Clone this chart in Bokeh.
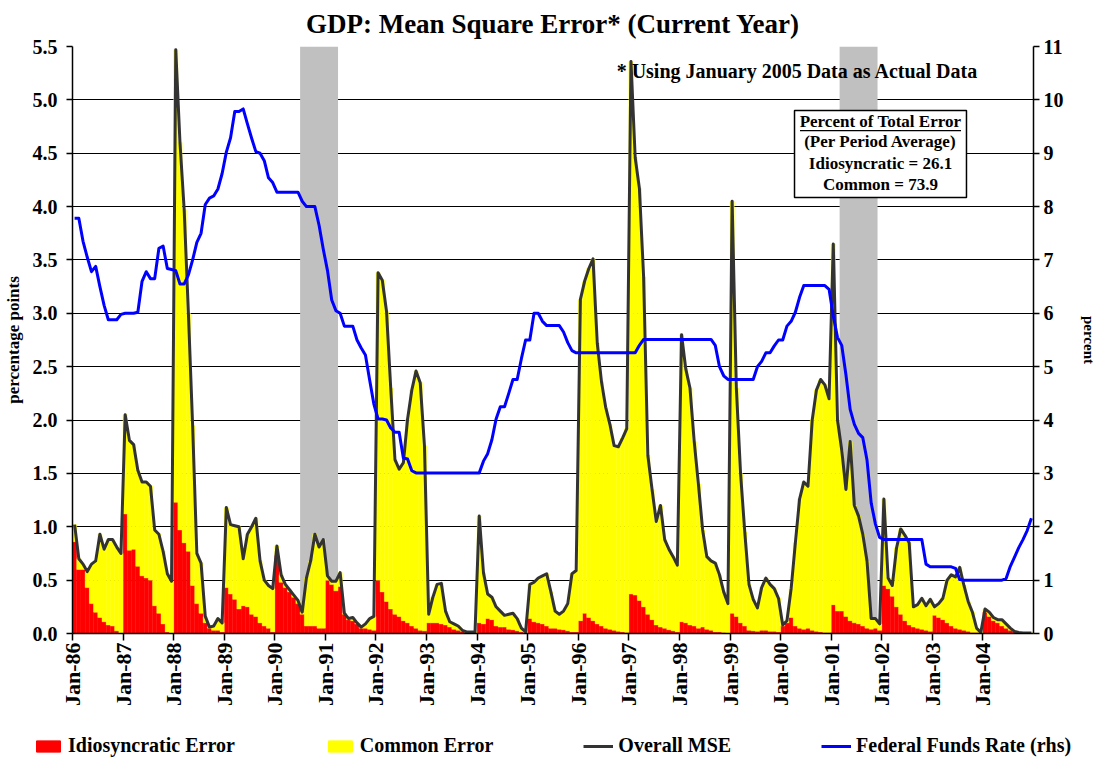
import math
from bokeh.plotting import figure
from bokeh.models import (Range1d, LinearAxis, FixedTicker, PrintfTickFormatter,
                          Legend, LegendItem, Label, BoxAnnotation, ColumnDataSource)
from bokeh.embed import file_html
from bokeh.resources import INLINE

# ---------------- data (monthly, Jan-1986 .. Dec-2004) ----------------
start_year = 1986
tick_labels = ["Jan-86", "Jan-87", "Jan-88", "Jan-89", "Jan-90", "Jan-91", "Jan-92",
               "Jan-93", "Jan-94", "Jan-95", "Jan-96", "Jan-97", "Jan-98", "Jan-99",
               "Jan-00", "Jan-01", "Jan-02", "Jan-03", "Jan-04"]

# Overall MSE (percentage points)
mse = [
    1.02, 0.70, 0.65, 0.58, 0.65, 0.68, 0.93, 0.79, 0.88, 0.88, 0.81, 0.75,   # 1986
    2.05, 1.81, 1.77, 1.53, 1.42, 1.42, 1.38, 0.97, 0.93, 0.77, 0.56, 0.49,   # 1987
    5.47, 4.60, 3.97, 3.00, 1.95, 0.75, 0.66, 0.16, 0.06, 0.07, 0.14, 0.10,   # 1988
    1.18, 1.02, 1.01, 1.00, 0.70, 0.93, 1.00, 1.08, 0.68, 0.50, 0.45, 0.42,   # 1989
    0.82, 0.55, 0.46, 0.41, 0.36, 0.31, 0.20, 0.52, 0.68, 0.93, 0.81, 0.88,   # 1990
    0.54, 0.49, 0.49, 0.57, 0.19, 0.14, 0.15, 0.10, 0.06, 0.09, 0.14, 0.16,   # 1991
    3.38, 3.31, 3.02, 2.30, 1.63, 1.54, 1.60, 2.01, 2.28, 2.46, 2.35, 1.76,   # 1992
    0.18, 0.34, 0.46, 0.47, 0.21, 0.11, 0.09, 0.07, 0.03, 0.015, 0.015, 0.015,  # 1993
    1.10, 0.57, 0.37, 0.34, 0.25, 0.21, 0.17, 0.18, 0.19, 0.14, 0.05, 0.015,  # 1994
    0.46, 0.48, 0.52, 0.54, 0.56, 0.39, 0.21, 0.18, 0.21, 0.28, 0.56, 0.59,   # 1995
    3.13, 3.30, 3.42, 3.51, 2.72, 2.36, 2.12, 1.96, 1.76, 1.75, 1.83, 1.92,   # 1996
    5.36, 4.46, 4.17, 3.34, 1.67, 1.35, 1.05, 1.20, 0.88, 0.79, 0.72, 0.64,   # 1997
    2.80, 2.48, 2.30, 1.80, 1.40, 0.97, 0.72, 0.68, 0.66, 0.55, 0.39, 0.28,   # 1998
    4.05, 2.30, 1.50, 0.95, 0.46, 0.32, 0.24, 0.43, 0.52, 0.46, 0.42, 0.33,   # 1999
    0.08, 0.12, 0.42, 0.85, 1.26, 1.42, 1.38, 2.00, 2.28, 2.38, 2.33, 2.20,   # 2000
    3.65, 2.00, 1.72, 1.35, 1.80, 1.20, 1.10, 0.93, 0.68, 0.14, 0.14, 0.09,   # 2001
    1.26, 0.52, 0.45, 0.80, 0.98, 0.92, 0.85, 0.25, 0.27, 0.33, 0.26, 0.32,   # 2002
    0.25, 0.28, 0.33, 0.50, 0.55, 0.53, 0.62, 0.45, 0.30, 0.20, 0.05, 0.01,   # 2003
    0.23, 0.20, 0.15, 0.13, 0.13, 0.09, 0.05, 0.02, 0.01, 0.005, 0.005, 0.005,  # 2004
]

# Idiosyncratic error (percentage points)
idio = [
    0.86, 0.60, 0.60, 0.43, 0.28, 0.20, 0.15, 0.11, 0.08, 0.07, 0.025, 0.005,
    1.12, 0.78, 0.79, 0.63, 0.54, 0.52, 0.50, 0.26, 0.19, 0.09, 0.015, 0.005,
    1.23, 0.97, 0.85, 0.77, 0.45, 0.28, 0.19, 0.10, 0.05, 0.03, 0.03, 0.015,
    0.43, 0.37, 0.32, 0.23, 0.26, 0.25, 0.18, 0.16, 0.10, 0.07, 0.05, 0.015,
    0.73, 0.48, 0.43, 0.39, 0.34, 0.28, 0.18, 0.07, 0.07, 0.07, 0.05, 0.05,
    0.50, 0.46, 0.40, 0.44, 0.18, 0.13, 0.12, 0.09, 0.05, 0.05, 0.04, 0.03,
    0.50, 0.39, 0.30, 0.23, 0.18, 0.16, 0.12, 0.10, 0.07, 0.05, 0.03, 0.025,
    0.10, 0.10, 0.10, 0.09, 0.08, 0.06, 0.04, 0.03, 0.02, 0.01, 0.01, 0.01,
    0.10, 0.09, 0.14, 0.13, 0.07, 0.06, 0.06, 0.04, 0.035, 0.025, 0.015, 0.01,
    0.14, 0.11, 0.10, 0.09, 0.07, 0.05, 0.05, 0.04, 0.035, 0.025, 0.015, 0.015,
    0.12, 0.19, 0.15, 0.12, 0.09, 0.07, 0.05, 0.04, 0.03, 0.02, 0.015, 0.01,
    0.37, 0.36, 0.31, 0.25, 0.18, 0.13, 0.08, 0.06, 0.05, 0.035, 0.025, 0.015,
    0.11, 0.10, 0.08, 0.07, 0.05, 0.06, 0.04, 0.03, 0.015, 0.015, 0.01, 0.005,
    0.19, 0.16, 0.10, 0.07, 0.03, 0.025, 0.02, 0.03, 0.03, 0.02, 0.02, 0.015,
    0.07, 0.10, 0.15, 0.07, 0.05, 0.04, 0.05, 0.03, 0.02, 0.015, 0.01, 0.01,
    0.27, 0.21, 0.21, 0.16, 0.12, 0.10, 0.09, 0.07, 0.05, 0.04, 0.05, 0.03,
    0.45, 0.42, 0.35, 0.25, 0.18, 0.12, 0.08, 0.06, 0.05, 0.04, 0.03, 0.02,
    0.17, 0.15, 0.13, 0.10, 0.07, 0.05, 0.04, 0.03, 0.02, 0.01, 0.01, 0.005,
    0.20, 0.16, 0.12, 0.10, 0.07, 0.05, 0.03, 0.02, 0.01, 0.005, 0.003, 0.002,
]

# Federal funds rate (percent, right axis)
fed_funds = [
    7.78, 7.78, 7.35, 7.05, 6.78, 6.88, 6.50, 6.15, 5.88, 5.88, 5.88, 5.98,
    6.00, 6.00, 6.00, 6.02, 6.60, 6.78, 6.65, 6.65, 7.22, 7.26, 6.84, 6.82,
    6.80, 6.55, 6.55, 6.72, 7.00, 7.33, 7.50, 8.04, 8.16, 8.20, 8.33, 8.62,
    9.02, 9.29, 9.78, 9.78, 9.83, 9.55, 9.28, 9.03, 9.00, 8.86, 8.54, 8.45,
    8.27, 8.27, 8.27, 8.27, 8.27, 8.27, 8.10, 8.00, 8.00, 8.00, 7.65, 7.20,
    6.80, 6.25, 6.05, 6.00, 5.76, 5.76, 5.76, 5.50, 5.35, 5.22, 4.75, 4.30,
    4.02, 4.02, 4.00, 3.85, 3.77, 3.77, 3.29, 3.27, 3.05, 3.01, 3.01, 3.01,
    3.01, 3.01, 3.01, 3.01, 3.01, 3.01, 3.01, 3.01, 3.01, 3.01, 3.01, 3.01,
    3.01, 3.23, 3.37, 3.63, 4.02, 4.25, 4.25, 4.50, 4.76, 4.76, 5.15, 5.50,
    5.50, 6.00, 6.00, 5.85, 5.77, 5.77, 5.77, 5.77, 5.65, 5.45, 5.30, 5.26,
    5.26, 5.26, 5.26, 5.26, 5.26, 5.26, 5.26, 5.26, 5.26, 5.26, 5.26, 5.26,
    5.26, 5.26, 5.40, 5.51, 5.51, 5.51, 5.51, 5.51, 5.51, 5.51, 5.51, 5.51,
    5.51, 5.51, 5.51, 5.51, 5.51, 5.51, 5.51, 5.51, 5.40, 5.00, 4.83, 4.76,
    4.76, 4.76, 4.76, 4.76, 4.76, 4.76, 5.00, 5.10, 5.26, 5.26, 5.39, 5.50,
    5.50, 5.76, 5.85, 6.02, 6.30, 6.52, 6.52, 6.52, 6.52, 6.52, 6.52, 6.45,
    5.95, 5.55, 5.40, 4.85, 4.20, 3.92, 3.75, 3.67, 3.25, 2.44, 2.05, 1.80,
    1.76, 1.76, 1.76, 1.76, 1.76, 1.76, 1.76, 1.76, 1.76, 1.76, 1.30, 1.25,
    1.25, 1.25, 1.25, 1.25, 1.25, 1.22, 1.01, 1.00, 1.00, 1.00, 1.00, 1.00,
    1.00, 1.00, 1.00, 1.00, 1.00, 1.03, 1.26, 1.43, 1.61, 1.76, 1.93, 2.16,
]

# NBER recessions (shaded)
recessions = [("1990-07", "1991-03"), ("2001-03", "2001-11")]

# ---------------- build ----------------
FONT = "Liberation Serif"
RED, YELLOW, GREY_LINE, BLUE = "#FF0000", "#FFFF00", "#333333", "#0000FF"
n = len(mse)
xc = [i + 0.5 for i in range(n)]
src = ColumnDataSource(dict(x=xc, idio=idio, mse=mse, ffr=fed_funds))


def month_index(s):
    y, m = s.split("-")
    return (int(y) - start_year) * 12 + int(m) - 1


rec_left = [month_index(a) for a, b in recessions]
rec_right = [month_index(b) + 1 for a, b in recessions]

p = figure(width=1099, height=720, x_range=Range1d(0, n), y_range=Range1d(0, 5.5),
           output_backend="svg", toolbar_location=None,
           min_border_left=72, min_border_right=66, min_border_top=46,
           min_border_bottom=87)
p.extra_y_ranges = {"ffr": Range1d(0, 11)}
p.outline_line_color = None
p.background_fill_color = "white"
p.border_fill_color = "white"

# recession shading (drawn above grid, below bars)
p.quad(left=rec_left, right=rec_right, bottom=0, top=5.5,
       fill_color="#C0C0C0", line_color=None)

p.vbar(x="x", top="idio", width=1.0, source=src,
       fill_color=RED, line_color=RED, line_width=0.4)
p.vbar(x="x", bottom="idio", top="mse", width=1.0, source=src,
       fill_color=YELLOW, line_color=YELLOW, line_width=0.4)
p.line(x="x", y="mse", source=src, line_color=GREY_LINE,
       line_width=3, line_join="round")
p.line(x="x", y="ffr", source=src, y_range_name="ffr",
       line_color=BLUE, line_width=3, line_join="round")

# axes
xt = [12 * i for i in range(len(tick_labels))]
p.xaxis.ticker = FixedTicker(ticks=xt)
p.xaxis.major_label_overrides = {t: lab for t, lab in zip(xt, tick_labels)}
p.xaxis.major_label_orientation = math.pi / 2
p.xaxis.major_tick_out = 7
p.xaxis.major_label_standoff = 2

p.yaxis.ticker = FixedTicker(ticks=[i * 0.5 for i in range(12)])
p.yaxis.formatter = PrintfTickFormatter(format="%.1f")
p.yaxis.axis_label = "percentage points"
p.yaxis.major_tick_out = 6
p.yaxis.major_label_standoff = 9
p.yaxis.axis_label_standoff = 7

ax_r = LinearAxis(y_range_name="ffr", ticker=FixedTicker(ticks=list(range(12))),
                  axis_label="percent")
p.add_layout(ax_r, "right")
ax_r.major_tick_out = 6
ax_r.major_label_standoff = 4
ax_r.axis_label_standoff = 14

for ax in [p.xaxis[0], p.yaxis[0], ax_r]:
    ax.axis_line_color = "black"
    ax.axis_line_width = 1.5
    ax.major_tick_line_color = "black"
    ax.major_tick_line_width = 1.5
    ax.major_tick_in = 0
    ax.minor_tick_line_color = None
    ax.major_label_text_font = FONT
    ax.major_label_text_font_style = "bold"
    ax.major_label_text_font_size = "20px"
    ax.major_label_text_color = "black"
    ax.axis_label_text_font = FONT
    ax.axis_label_text_font_style = "bold"
    ax.axis_label_text_font_size = "17px"
    ax.axis_label_text_color = "black"
p.xaxis.major_label_text_font_size = "22px"
ax_r.axis_label_text_font_size = "15px"

p.xgrid.visible = False
p.ygrid.ticker = p.yaxis[0].ticker
p.ygrid.grid_line_color = "black"
p.ygrid.grid_line_width = 1

# title
p.title.text = "GDP: Mean Square Error* (Current Year)"
p.title.align = "center"
p.title.vertical_align = "top"
p.title.text_font = FONT
p.title.text_font_style = "bold"
p.title.text_font_size = "27px"
p.title.text_color = "black"
p.title.standoff = 12

# notes
p.add_layout(Label(x=129.1, y=5.266, text="* Using January 2005 Data as Actual Data",
                   text_font=FONT, text_font_style="bold", text_font_size="20px",
                   text_align="left", text_baseline="middle", text_color="black"))

p.add_layout(BoxAnnotation(left=171.3, right=212.1, top=4.90, bottom=4.086,
                           fill_color="white", fill_alpha=1.0,
                           line_color="black", line_width=1.5, line_alpha=1.0))
box_lines = ["Percent of Total Error", "(Per Period Average)",
             "Idiosyncratic = 26.1", "Common = 73.9"]
box_y = [4.80, 4.61, 4.40, 4.21]
for t, yy in zip(box_lines, box_y):
    p.add_layout(Label(x=191.7, y=yy, text=t, text_font=FONT, text_font_style="bold",
                       text_font_size="17px", text_align="center",
                       text_baseline="middle", text_color="black"))
p.add_layout(BoxAnnotation(left=172.6, right=210.8, top=4.718, bottom=4.705,
                           fill_color="black", fill_alpha=1.0, line_color=None))

# legend strip below the chart (proxies styled like the series above)
lg = figure(width=1099, height=43, x_range=Range1d(0, 1), y_range=Range1d(0, 1),
            output_backend="svg", toolbar_location=None,
            x_axis_location=None, y_axis_location=None, min_border=0)
lg.grid.visible = False
lg.outline_line_color = None
nan = float("nan")
proxy = ColumnDataSource(dict(x=[nan], y=[nan]))
g_idio = lg.vbar(x="x", top="y", width=1, source=proxy,
                 fill_color=RED, line_color=RED)
g_common = lg.vbar(x="x", top="y", width=1, source=proxy,
                   fill_color=YELLOW, line_color=YELLOW)
g_mse = lg.line(x="x", y="y", source=proxy, line_color=GREY_LINE, line_width=3)
g_ffr = lg.line(x="x", y="y", source=proxy, line_color=BLUE, line_width=3)
legend = Legend(items=[LegendItem(label="Idiosyncratic Error", renderers=[g_idio]),
                       LegendItem(label="Common Error", renderers=[g_common]),
                       LegendItem(label="Overall MSE", renderers=[g_mse]),
                       LegendItem(label="Federal Funds Rate (rhs)", renderers=[g_ffr])],
                orientation="horizontal", location=(33, 6),
                glyph_width=30, glyph_height=14, label_standoff=5, spacing=90,
                padding=0, margin=0, border_line_color=None,
                background_fill_alpha=0.0,
                label_text_font=FONT, label_text_font_style="bold",
                label_text_font_size="20px", label_text_color="black")
lg.add_layout(legend)

open("out.html", "w").write(file_html([p, lg], INLINE))
